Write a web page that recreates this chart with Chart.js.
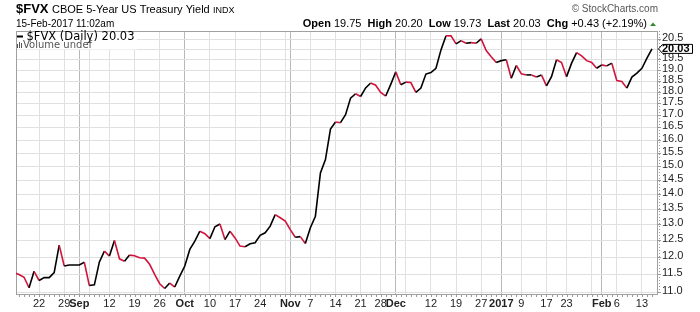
<!DOCTYPE html>
<html>
<head>
<meta charset="utf-8">
<script src="https://cdn.jsdelivr.net/npm/chart.js@4"></script>
<style>
  html, body { margin: 0; padding: 0; background: #fff; }
  canvas { display: block; }
</style>
</head>
<body>
<canvas id="fvx-chart" width="700" height="312"></canvas>
<script>
// trading days shown on the chart
const days = [
  '2016-08-15','2016-08-16','2016-08-17','2016-08-18','2016-08-19','2016-08-22','2016-08-23','2016-08-24','2016-08-25','2016-08-26','2016-08-29','2016-08-30','2016-08-31',
  '2016-09-01','2016-09-02','2016-09-06','2016-09-07','2016-09-08','2016-09-09','2016-09-12','2016-09-13','2016-09-14','2016-09-15','2016-09-16','2016-09-19','2016-09-20','2016-09-21','2016-09-22','2016-09-23','2016-09-26','2016-09-27','2016-09-28','2016-09-29','2016-09-30',
  '2016-10-03','2016-10-04','2016-10-05','2016-10-06','2016-10-07','2016-10-10','2016-10-11','2016-10-12','2016-10-13','2016-10-14','2016-10-17','2016-10-18','2016-10-19','2016-10-20','2016-10-21','2016-10-24','2016-10-25','2016-10-26','2016-10-27','2016-10-28','2016-10-31',
  '2016-11-01','2016-11-02','2016-11-03','2016-11-04','2016-11-07','2016-11-08','2016-11-09','2016-11-10','2016-11-11','2016-11-14','2016-11-15','2016-11-16','2016-11-17','2016-11-18','2016-11-21','2016-11-22','2016-11-23','2016-11-25','2016-11-28','2016-11-29','2016-11-30',
  '2016-12-01','2016-12-02','2016-12-05','2016-12-06','2016-12-07','2016-12-08','2016-12-09','2016-12-12','2016-12-13','2016-12-14','2016-12-15','2016-12-16','2016-12-19','2016-12-20','2016-12-21','2016-12-22','2016-12-23','2016-12-27','2016-12-28','2016-12-29','2016-12-30',
  '2017-01-03','2017-01-04','2017-01-05','2017-01-06','2017-01-09','2017-01-10','2017-01-11','2017-01-12','2017-01-13','2017-01-17','2017-01-18','2017-01-19','2017-01-20','2017-01-23','2017-01-24','2017-01-25','2017-01-26','2017-01-27','2017-01-30','2017-01-31',
  '2017-02-01','2017-02-02','2017-02-03','2017-02-06','2017-02-07','2017-02-08','2017-02-09','2017-02-10','2017-02-13','2017-02-14','2017-02-15'
];

// $FVX daily close (yield x 10)
const yields = [
  11.56, 11.51, 11.43, 11.14, 11.60, 11.34, 11.42, 11.42, 11.56, 12.37, 11.75, 11.78, 11.78,
  11.78, 11.86, 11.20, 11.22, 11.87, 12.19, 12.04, 12.51, 11.96, 11.89, 12.07, 12.05, 11.99, 11.98, 11.80, 11.51, 11.25, 11.12, 11.27, 11.16, 11.46,
  11.75, 12.24, 12.49, 12.80, 12.72, 12.57, 12.94, 13.03, 12.54, 12.80, 12.59, 12.34, 12.32, 12.41, 12.44, 12.67, 12.75, 12.96, 13.33, 13.23, 13.12,
  12.85, 12.61, 12.63, 12.42, 12.91, 13.28, 14.77, 15.26, 16.45, 16.74, 16.71, 17.04, 17.75, 17.94, 17.82, 18.20, 18.42, 18.32, 18.00, 17.84, 18.36,
  18.93, 18.34, 18.46, 18.44, 18.00, 18.19, 18.83, 18.90, 19.10, 19.98, 20.69, 20.68, 20.28, 20.44, 20.31, 20.34, 20.31, 20.53, 19.95, 19.65, 19.37,
  19.46, 19.50, 18.64, 19.23, 18.84, 18.79, 18.79, 18.69, 18.79, 18.29, 18.71, 19.50, 19.37, 18.71, 19.34, 19.85, 19.69, 19.46, 19.37, 19.10,
  19.26, 19.21, 19.34, 18.53, 18.49, 18.19, 18.69, 18.87, 19.10, 19.58, 20.03
];

// x axis ticks (empty label = grid line only)
const tickDays = ['2016-08-22','2016-08-29','2016-09-01','2016-09-06','2016-09-12','2016-09-19','2016-09-26','2016-10-03','2016-10-10','2016-10-17','2016-10-24','2016-10-31',
  '2016-11-01','2016-11-07','2016-11-14','2016-11-21','2016-11-28','2016-12-01','2016-12-05','2016-12-12','2016-12-19','2016-12-27','2017-01-03','2017-01-09','2017-01-17','2017-01-23','2017-01-30',
  '2017-02-01','2017-02-06','2017-02-13'];
const tickLabels = ['22','29','Sep','','12','19','26','Oct','10','17','24','',
  'Nov','7','14','21','28','Dec','','12','19','27','2017','9','17','23','',
  'Feb','6','13'];
const monthLabels = ['Sep','Oct','Nov','Dec','2017','Feb'];

const yTicks = [11.0, 11.5, 12.0, 12.5, 13.0, 13.5, 14.0, 14.5, 15.0, 15.5, 16.0, 16.5, 17.0, 17.5, 18.0, 18.5, 19.0, 19.5, 20.0, 20.5];

const FONT = 'Arial, "Liberation Sans", sans-serif';
const RED = '#d2143c';
const tickIdx = tickDays.map(d => days.indexOf(d));
const lastValue = yields[yields.length - 1];

const overlay = {
  id: 'overlay',
  beforeDatasetsDraw(chart) {
    const ctx = chart.ctx, a = chart.chartArea;
    ctx.save();
    ctx.strokeStyle = '#a0a0a0';
    ctx.lineWidth = 1;
    ctx.strokeRect(a.left + 0.5, a.top + 0.5, a.right - a.left - 1, a.bottom - a.top);
    ctx.restore();
  },
  afterDraw(chart) {
    const ctx = chart.ctx, a = chart.chartArea;
    const xs = chart.scales.x, ys = chart.scales.y;
    ctx.save();

    // header
    ctx.fillStyle = '#000';
    ctx.textBaseline = 'alphabetic';
    ctx.font = 'bold 13px ' + FONT;
    ctx.fillText('$FVX', 16, 13);
    ctx.font = '11px ' + FONT;
    ctx.fillText('CBOE 5-Year US Treasury Yield', 52, 13);
    ctx.font = '9px ' + FONT;
    ctx.fillText('INDX', 213, 13);
    ctx.font = '10px ' + FONT;
    ctx.fillText('15-Feb-2017 11:02am', 16, 26.5);

    ctx.fillStyle = '#555';
    ctx.font = '10px ' + FONT;
    ctx.textAlign = 'right';
    ctx.fillText('\u00A9 StockCharts.com', 658, 12);
    ctx.textAlign = 'left';

    const stats = [['Open', true], [' 19.75  ', false], ['High', true], [' 20.20  ', false], ['Low', true], [' 19.73  ', false],
      ['Last', true], [' 20.03  ', false], ['Chg', true], [' +0.43 (+2.19%)', false]];
    let w = 0;
    stats.forEach(s => { ctx.font = (s[1] ? 'bold ' : '') + '11px ' + FONT; w += ctx.measureText(s[0]).width; });
    let x = 647 - w;
    ctx.fillStyle = '#000';
    stats.forEach(s => {
      ctx.font = (s[1] ? 'bold ' : '') + '11px ' + FONT;
      ctx.fillText(s[0], x, 26.5);
      x += ctx.measureText(s[0]).width;
    });
    ctx.fillStyle = '#2e8b2e';
    ctx.beginPath();
    ctx.moveTo(650, 26); ctx.lineTo(656, 26); ctx.lineTo(653, 22.5); ctx.closePath();
    ctx.fill();

    // legend box in plot
    ctx.fillStyle = '#fff';
    ctx.fillRect(a.left + 1, a.top + 1, 120, 17.5);
    ctx.fillStyle = '#000';
    ctx.fillRect(17, 35.5, 6, 2);
    ctx.font = '11.5px "DejaVu Sans", sans-serif';
    ctx.fillText('$FVX (Daily) ' + lastValue.toFixed(2), 26.5, 40);
    ctx.fillStyle = '#555';
    ctx.fillRect(17, 44, 1, 4); ctx.fillRect(19, 42, 1, 6); ctx.fillRect(21, 43, 1, 5);
    ctx.font = '10px "DejaVu Sans", sans-serif';
    ctx.fillText('Volume undef', 23, 48);

    // daily ticks under x axis
    ctx.fillStyle = '#999';
    days.forEach((d, i) => {
      const px = xs.getPixelForValue(i);
      if (px >= a.left && px <= a.right) ctx.fillRect(Math.round(px), a.bottom + 1, 1, 2);
    });
    // dotted right axis line
    ctx.strokeStyle = '#999';
    ctx.setLineDash([1, 2]);
    ctx.beginPath();
    ctx.moveTo(a.right + 1.5, a.top); ctx.lineTo(a.right + 1.5, a.bottom);
    ctx.stroke();
    ctx.setLineDash([]);

    // last value tag
    const ly = ys.getPixelForValue(lastValue);
    ctx.fillStyle = '#fff';
    ctx.strokeStyle = '#000';
    ctx.lineWidth = 1;
    ctx.beginPath();
    ctx.moveTo(a.right + 0.5, ly);
    ctx.lineTo(a.right + 4.5, ly - 4.5);
    ctx.lineTo(692.5, ly - 4.5);
    ctx.lineTo(692.5, ly + 4.5);
    ctx.lineTo(a.right + 4.5, ly + 4.5);
    ctx.closePath();
    ctx.fill();
    ctx.stroke();
    ctx.fillStyle = '#000';
    ctx.font = 'bold 11px ' + FONT;
    ctx.textBaseline = 'middle';
    ctx.fillText(lastValue.toFixed(2), a.right + 4, ly + 0.5);
    ctx.restore();
  }
};

new Chart(document.querySelector('#fvx-chart').getContext('2d'), {
  type: 'line',
  data: {
    datasets: [{
      label: '$FVX (Daily)',
      data: yields.map((v, i) => ({ x: i, y: v })),
      borderColor: '#000',
      borderWidth: 1.6,
      pointRadius: 0,
      tension: 0,
      segment: {
        borderColor: c => c.p1.parsed.y < c.p0.parsed.y ? RED : '#000'
      }
    }]
  },
  options: {
    responsive: false,
    animation: false,
    layout: { padding: { left: 16, top: 31, right: 0, bottom: 0 } },
    plugins: { legend: { display: false }, tooltip: { enabled: false } },
    scales: {
      x: {
        type: 'linear',
        min: 0.4,
        max: 128.2,
        afterBuildTicks: s => { s.ticks = tickIdx.map(v => ({ value: v })); },
        afterFit: s => { s.height = 18; },
        border: { display: false },
        grid: {
          drawTicks: false,
          color: c => (c.tick && monthLabels.includes(tickLabels[c.index])) ? '#b8b8b8' : '#e0e0e0'
        },
        ticks: {
          autoSkip: false,
          maxRotation: 0,
          padding: 3,
          color: '#222',
          callback: (v, i) => tickLabels[i],
          font: c => ({ family: FONT, size: 11, weight: monthLabels.includes(tickLabels[c.index]) ? 'bold' : 'normal' })
        }
      },
      y: {
        type: 'logarithmic',
        position: 'right',
        min: 10.97,
        max: 20.93,
        afterBuildTicks: s => { s.ticks = yTicks.map(v => ({ value: v })); },
        afterFit: s => { s.width = 42; },
        border: { display: false },
        grid: { color: '#e0e0e0', drawTicks: true, tickLength: 3, tickColor: '#999' },
        ticks: {
          autoSkip: false,
          padding: 1,
          labelOffset: -1.5,
          color: '#222',
          font: { family: FONT, size: 11 },
          callback: v => v === 20 ? '' : Number(v).toFixed(1)
        }
      }
    }
  },
  plugins: [overlay]
});
</script>
</body>
</html>
